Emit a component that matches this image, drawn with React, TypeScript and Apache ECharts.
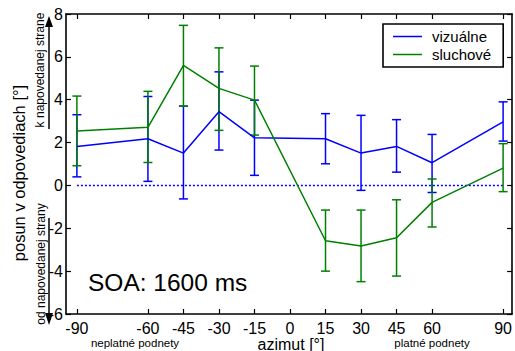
import React, { useEffect, useRef } from "react";
import * as echarts from "echarts";

const azimuths = [-90, -60, -45, -30, -15, 15, 30, 45, 60, 90];
const visualMean = [1.82, 2.18, 1.51, 3.44, 2.22, 2.18, 1.51, 1.82, 1.06, 2.97];
const visualLow = [0.4, 0.19, -0.63, 1.65, 0.47, 1.01, -0.23, 0.62, -0.33, 2.07];
const visualHigh = [3.3, 4.15, 3.7, 5.3, 3.98, 3.35, 3.27, 3.07, 2.38, 3.9];
const auditoryMean = [2.54, 2.71, 5.6, 4.53, 3.98, -2.58, -2.83, -2.44, -0.79, 0.81];
const auditoryLow = [0.92, 1.07, 3.7, 2.57, 2.35, -4.0, -4.49, -4.23, -1.94, -0.29];
const auditoryHigh = [4.17, 4.39, 7.47, 6.42, 5.57, -1.15, -1.15, -0.67, 0.3, 1.95];
const xTicks = [-90, -60, -45, -30, -15, 0, 15, 30, 45, 60, 90];
const zeroLineX = [-90, 90];
const zeroLineY = [0, 0];
const seriesNames = ["vizuálne", "sluchové"];

const FONT = "Liberation Sans, Arial, sans-serif";
const BLUE = "#0000ff";
const GREEN = "#008000";

function errorBarSeries(name: string, low: number[], high: number[], color: string) {
  return {
    type: "custom",
    name: name + "-err",
    xAxisIndex: 0,
    yAxisIndex: 0,
    encode: { x: 0, y: [1, 2] },
    data: azimuths.map((a, i) => [a, low[i], high[i]]),
    renderItem: (params: any, api: any) => {
      const x = api.value(0);
      const pLo = api.coord([x, api.value(1)]);
      const pHi = api.coord([x, api.value(2)]);
      const hw = 4.5;
      const style = { stroke: color, lineWidth: 1.5, fill: "none" };
      return {
        type: "group",
        children: [
          { type: "line", shape: { x1: pLo[0], y1: pLo[1], x2: pHi[0], y2: pHi[1] }, style },
          { type: "line", shape: { x1: pLo[0] - hw, y1: pLo[1], x2: pLo[0] + hw, y2: pLo[1] }, style },
          { type: "line", shape: { x1: pHi[0] - hw, y1: pHi[1], x2: pHi[0] + hw, y2: pHi[1] }, style },
        ],
      };
    },
    z: 3,
  };
}

export default function App() {
  const ref = useRef<HTMLDivElement>(null);
  useEffect(() => {
    if (!ref.current) return;
    const chart = echarts.init(ref.current, null, { renderer: "svg" });
    const axisLine = { show: true, onZero: false, lineStyle: { color: "#000", width: 1.6 } };
    const tickStyle = { lineStyle: { color: "#000", width: 1.2 } };
    chart.setOption({
      animation: false,
      backgroundColor: "#fff",
      grid: { left: 66, right: 2, top: 14, bottom: 37, containLabel: false },
      xAxis: [
        {
          type: "value",
          min: -94.6,
          max: 93.8,
          position: "bottom",
          axisLine,
          splitLine: { show: false },
          axisTick: { show: true, inside: true, length: 5, customValues: xTicks, ...tickStyle },
          axisLabel: {
            customValues: xTicks,
            fontSize: 16,
            fontFamily: FONT,
            color: "#000",
            margin: 6,
          },
        },
        {
          type: "value",
          min: -94.6,
          max: 93.8,
          position: "top",
          axisLine,
          splitLine: { show: false },
          axisTick: { show: true, inside: true, length: 5, customValues: xTicks, ...tickStyle },
          axisLabel: { show: false },
        },
      ],
      yAxis: [
        {
          type: "value",
          min: -6,
          max: 8,
          interval: 2,
          position: "left",
          axisLine,
          splitLine: { show: false },
          axisTick: { show: true, inside: true, length: 5, ...tickStyle },
          axisLabel: { fontSize: 16, fontFamily: FONT, color: "#000", margin: 3 },
        },
        {
          type: "value",
          min: -6,
          max: 8,
          interval: 2,
          position: "right",
          axisLine,
          splitLine: { show: false },
          axisTick: { show: true, inside: true, length: 5, ...tickStyle },
          axisLabel: { show: false },
        },
      ],
      legend: {
        orient: "vertical",
        left: 383,
        top: 24,
        data: seriesNames,
        icon: "rect",
        itemWidth: 29,
        itemHeight: 1.5,
        itemGap: 3,
        borderColor: "#000",
        borderWidth: 1.6,
        backgroundColor: "#fff",
        padding: [5, 12, 5, 10],
        textStyle: { fontSize: 15, fontFamily: FONT, color: "#000", padding: [0, 0, 0, 5] },
      },
      series: [
        {
          type: "line",
          name: "zero",
          data: zeroLineX.map((x, i) => [x, zeroLineY[i]]),
          symbol: "none",
          lineStyle: { color: BLUE, width: 1.5, type: [2, 2] },
          z: 2,
        },
        errorBarSeries(seriesNames[0], visualLow, visualHigh, BLUE),
        {
          type: "line",
          name: seriesNames[0],
          data: azimuths.map((a, i) => [a, visualMean[i]]),
          symbol: "none",
          color: BLUE,
          lineStyle: { color: BLUE, width: 1.5 },
          z: 4,
        },
        errorBarSeries(seriesNames[1], auditoryLow, auditoryHigh, GREEN),
        {
          type: "line",
          name: seriesNames[1],
          data: azimuths.map((a, i) => [a, auditoryMean[i]]),
          symbol: "none",
          color: GREEN,
          lineStyle: { color: GREEN, width: 1.5 },
          z: 4,
        },
      ],
      graphic: [
        {
          type: "text",
          x: 19,
          y: 173,
          rotation: Math.PI / 2,
          style: {
            text: "posun v odpovediach [°]",
            fontSize: 16.5,
            fontFamily: FONT,
            fill: "#000",
            align: "center",
            verticalAlign: "middle",
          },
        },
        {
          type: "text",
          x: 40,
          y: 70,
          rotation: Math.PI / 2,
          style: {
            text: "k napovedanej strane",
            fontSize: 12,
            fontFamily: FONT,
            fill: "#000",
            align: "center",
            verticalAlign: "middle",
          },
        },
        {
          type: "text",
          x: 41,
          y: 264,
          rotation: Math.PI / 2,
          style: {
            text: "od napovedanej strany",
            fontSize: 12,
            fontFamily: FONT,
            fill: "#000",
            align: "center",
            verticalAlign: "middle",
          },
        },
        { type: "line", shape: { x1: 49, y1: 129, x2: 49, y2: 26 }, style: { stroke: "#000", lineWidth: 1.5 } },
        { type: "polygon", shape: { points: [[45, 27], [53, 27], [49, 16]] }, style: { fill: "#000" } },
        { type: "line", shape: { x1: 49, y1: 218, x2: 49, y2: 314 }, style: { stroke: "#000", lineWidth: 1.5 } },
        { type: "polygon", shape: { points: [[45, 313], [53, 313], [49, 325]] }, style: { fill: "#000" } },
        {
          type: "text",
          x: 88,
          y: 282,
          style: {
            text: "SOA: 1600 ms",
            fontSize: 24.5,
            fontFamily: FONT,
            fill: "#000",
            align: "left",
            verticalAlign: "middle",
          },
        },
        {
          type: "text",
          x: 291,
          y: 344,
          style: {
            text: "azimut [°]",
            fontSize: 16,
            fontFamily: FONT,
            fill: "#000",
            align: "center",
            verticalAlign: "middle",
          },
        },
        {
          type: "text",
          x: 135,
          y: 343,
          style: {
            text: "neplatné podnety",
            fontSize: 11.5,
            fontFamily: FONT,
            fill: "#000",
            align: "center",
            verticalAlign: "middle",
          },
        },
        {
          type: "text",
          x: 432,
          y: 343,
          style: {
            text: "platné podnety",
            fontSize: 11.5,
            fontFamily: FONT,
            fill: "#000",
            align: "center",
            verticalAlign: "middle",
          },
        },
      ],
    });
    return () => chart.dispose();
  }, []);
  return (
    <div
      ref={ref}
      style={{ position: "fixed", left: 0, top: 0, width: 515, height: 351, background: "#fff" }}
    />
  );
}
